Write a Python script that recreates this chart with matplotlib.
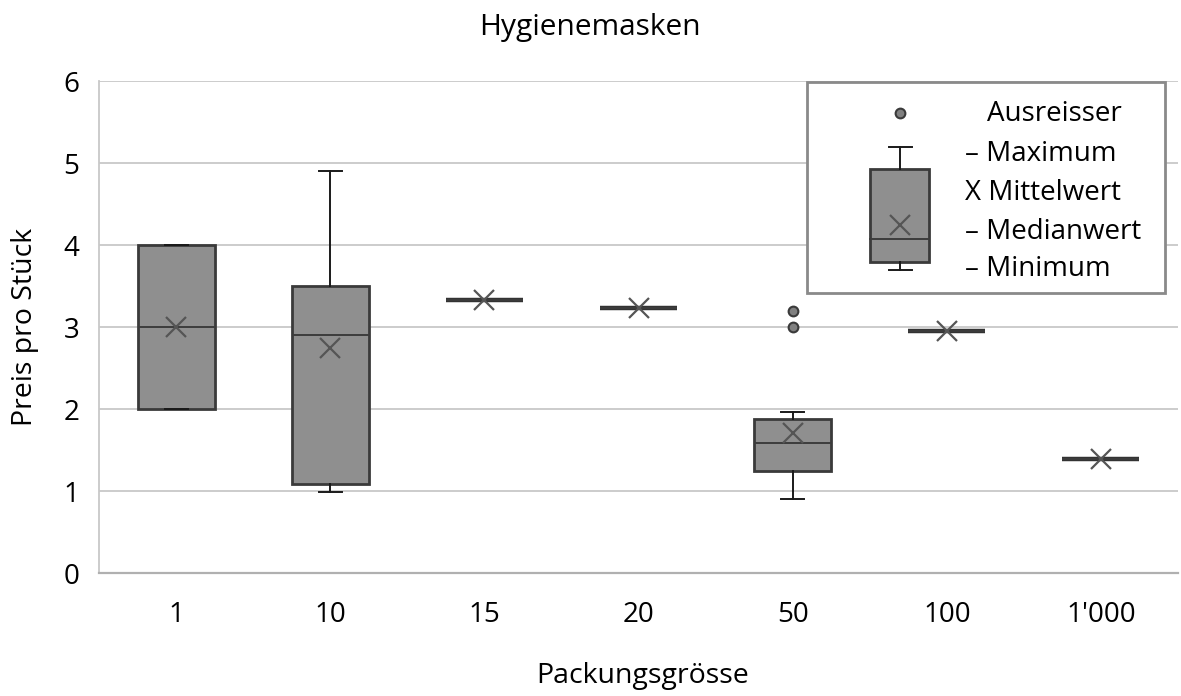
import matplotlib
matplotlib.use("Agg")
import matplotlib.pyplot as plt
from matplotlib.patches import Rectangle
from matplotlib.lines import Line2D

# ---- data ----
categories = ["1", "10", "15", "20", "50", "100", "1'000"]
q1 = [2.00, 1.08, 3.335, 3.235, 1.25, 2.95, 1.385]
median = [3.00, 2.90, 3.335, 3.235, 1.58, 2.95, 1.385]
q3 = [4.00, 3.50, 3.335, 3.235, 1.88, 2.95, 1.385]
whisker_low = [2.00, 0.99, 3.335, 3.235, 0.90, 2.95, 1.385]
whisker_high = [4.00, 4.90, 3.335, 3.235, 1.96, 2.95, 1.385]
mean = [3.00, 2.75, 3.335, 3.235, 1.71, 2.95, 1.385]
outliers = [[], [], [], [], [3.00, 3.19], [], []]
y_ticks = [0, 1, 2, 3, 4, 5, 6]

title = "Hygienemasken"
x_label = "Packungsgrösse"
y_label = "Preis pro Stück"
legend_labels = ["Ausreisser", "– Maximum", "X Mittelwert", "– Medianwert", "– Minimum"]

FONT = ["Open Sans", "DejaVu Sans"]
plt.rcParams["font.family"] = FONT
FS = 20

W, H = 1181, 696
fig = plt.figure(figsize=(W / 100, H / 100), dpi=100)
ax = fig.add_axes([99 / W, 1 - 573 / H, (1178 - 99) / W, (573 - 81) / H])

BOX_FILL = "#8f8f8f"
BOX_EDGE = "#3a3a3a"

stats = []
for i in range(len(categories)):
    stats.append(dict(q1=q1[i], med=median[i], q3=q3[i], whislo=whisker_low[i],
                      whishi=whisker_high[i], mean=mean[i], fliers=outliers[i],
                      label=categories[i]))

positions = list(range(len(categories)))
parts = ax.bxp(stats, positions=positions, widths=0.5, patch_artist=True, showmeans=True,
               boxprops=dict(facecolor=BOX_FILL, edgecolor=BOX_EDGE, linewidth=2.0),
               medianprops=dict(color="#3c3c3c", linewidth=1.4),
               whiskerprops=dict(color="#1a1a1a", linewidth=1.4),
               capprops=dict(color="#1a1a1a", linewidth=1.4),
               capwidths=0.15,
               meanprops=dict(marker="x", markersize=14, markeredgecolor="#555555",
                              markeredgewidth=1.6, linestyle="none"),
               flierprops=dict(marker="o", markersize=7, markerfacecolor="#808080",
                               markeredgecolor="#3a3a3a", markeredgewidth=1.5),
               zorder=3)
# collapsed boxes (single value) appear as a thick dark bar
for i, box in enumerate(parts["boxes"]):
    if q1[i] == q3[i]:
        box.set_linewidth(3.2)
        box.set_edgecolor("#333333")

ax.set_xlim(-0.5, len(categories) - 0.5)
ax.set_ylim(0, 6)
ax.set_yticks(y_ticks)
ax.set_yticklabels([str(t) for t in y_ticks])
ax.set_xticks(positions)
ax.set_xticklabels(categories)
ax.tick_params(axis="both", length=0, labelsize=FS, colors="#000000")
ax.tick_params(axis="y", pad=14)
ax.tick_params(axis="x", pad=20)
ax.yaxis.grid(True, color="#c8c8c8", linewidth=1.3, zorder=0)
ax.set_axisbelow(True)
for s in ["top", "right"]:
    ax.spines[s].set_visible(False)
ax.spines["left"].set_color("#c8c8c8")
ax.spines["left"].set_linewidth(1.3)
ax.spines["bottom"].set_color("#b0b0b0")
ax.spines["bottom"].set_linewidth(1.6)

def px(x, y):
    return (x / W, 1 - y / H)

fig.text(*px(590, 27), title, ha="center", va="center", fontsize=21.5)
fig.text(*px(643, 676), x_label, ha="center", va="center", fontsize=20.5)
fig.text(*px(25, 327), y_label, ha="center", va="center", rotation=90, fontsize=20.5)

# ---- legend drawn as a small schematic box ----
T = fig.transFigure
lx0, ly0 = px(807, 293)
lx1, ly1 = px(1165, 82)
fig.add_artist(Rectangle((lx0, ly0), lx1 - lx0, ly1 - ly0, transform=T,
                         facecolor="white", edgecolor="#8a8a8a", linewidth=2.0, zorder=5))
# mini box
bx0, by0 = px(870, 262)
bx1, by1 = px(929, 169)
fig.add_artist(Rectangle((bx0, by0), bx1 - bx0, by1 - by0, transform=T,
                         facecolor=BOX_FILL, edgecolor=BOX_EDGE, linewidth=2.0, zorder=6))
cx = 900
for (xa, ya), (xb, yb) in [((cx, 147), (cx, 169)), ((cx, 262), (cx, 270)),
                           ((889, 147), (912, 147)), ((889, 270), (912, 270))]:
    p1, p2 = px(xa, ya), px(xb, yb)
    fig.add_artist(Line2D([p1[0], p2[0]], [p1[1], p2[1]], transform=T,
                          color="#1a1a1a", linewidth=1.4, zorder=7))
m1, m2 = px(870, 239), px(929, 239)
fig.add_artist(Line2D([m1[0], m2[0]], [m1[1], m2[1]], transform=T,
                      color="#3c3c3c", linewidth=1.4, zorder=7))
mx = px(cx, 225)
fig.add_artist(Line2D([mx[0]], [mx[1]], transform=T, marker="x", markersize=14,
                      markeredgecolor="#555555", markeredgewidth=1.6, linestyle="none", zorder=7))
dp = px(cx, 113)
fig.add_artist(Line2D([dp[0]], [dp[1]], transform=T, marker="o", markersize=7,
                      markerfacecolor="#808080", markeredgecolor="#3a3a3a",
                      markeredgewidth=1.5, linestyle="none", zorder=7))

legend_pos = [(987, 114), (965, 154), (965, 193), (965, 232), (965, 269)]
for lab, (x, y) in zip(legend_labels, legend_pos):
    fig.text(*px(x, y), lab, ha="left", va="center", fontsize=FS, zorder=8)

fig.savefig("out.png", dpi=100, facecolor="white")
